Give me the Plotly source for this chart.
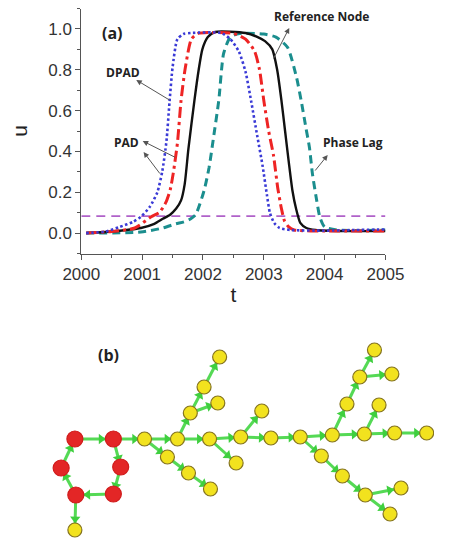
import math
import plotly.graph_objects as go

# ---------------- panel (a) data ----------------
t_dpad = [2000.08, 2000.4, 2000.63, 2000.85, 2000.98, 2001.13, 2001.25, 2001.33, 2001.40, 2001.45,
          2001.50, 2001.58, 2001.68, 2001.8, 2002.3, 2002.45, 2002.59, 2002.70, 2002.79, 2002.89,
          2002.98, 2003.05, 2003.10, 2003.17, 2003.26, 2003.45, 2004.0, 2004.5, 2005.0]
u_dpad = [0.0, 0.008, 0.03, 0.055, 0.08, 0.13, 0.20, 0.30, 0.45, 0.64,
          0.81, 0.95, 0.975, 0.98, 0.98, 0.95, 0.89, 0.79, 0.65, 0.48,
          0.33, 0.19, 0.10, 0.05, 0.025, 0.015, 0.012, 0.015, 0.018]

t_pad = [2000.08, 2000.5, 2000.88, 2001.15, 2001.28, 2001.39, 2001.46, 2001.51, 2001.58, 2001.64,
         2001.71, 2001.81, 2001.92, 2002.5, 2002.7, 2002.85, 2002.93, 2003.0, 2003.08, 2003.16,
         2003.23, 2003.29, 2003.34, 2003.41, 2003.5, 2004.0, 2005.0]
u_pad = [0.0, 0.008, 0.025, 0.08, 0.10, 0.15, 0.21, 0.29, 0.44, 0.65,
         0.81, 0.95, 0.978, 0.978, 0.95, 0.89, 0.80, 0.65, 0.50, 0.38,
         0.22, 0.12, 0.06, 0.03, 0.015, 0.01, 0.01]

t_ref = [2000.08, 2000.5, 2000.98, 2001.2, 2001.34, 2001.46, 2001.56, 2001.64, 2001.70, 2001.76,
         2001.86, 2001.93, 2001.99, 2002.08, 2002.2, 2002.7, 2002.9, 2003.02, 2003.14, 2003.22,
         2003.29, 2003.35, 2003.41, 2003.47, 2003.53, 2003.6, 2003.7, 2003.85, 2004.3, 2005.0]
u_ref = [0.0, 0.008, 0.025, 0.045, 0.07, 0.09, 0.12, 0.16, 0.24, 0.41,
         0.65, 0.80, 0.90, 0.96, 0.985, 0.98, 0.96, 0.94, 0.90, 0.80,
         0.65, 0.50, 0.35, 0.21, 0.12, 0.05, 0.025, 0.015, 0.01, 0.01]

t_lag = [2000.08, 2000.98, 2001.34, 2001.55, 2001.69, 2001.8, 2001.88, 2002.02, 2002.10, 2002.17,
         2002.26, 2002.34, 2002.45, 2002.6, 2003.0, 2003.2, 2003.39, 2003.54, 2003.62, 2003.69,
         2003.75, 2003.80, 2003.87, 2003.92, 2004.0, 2004.2, 2004.6, 2005.0]
u_lag = [0.0, 0.005, 0.025, 0.045, 0.055, 0.07, 0.09, 0.21, 0.32, 0.46,
         0.65, 0.88, 0.96, 0.978, 0.975, 0.96, 0.91, 0.76, 0.64, 0.52,
         0.42, 0.29, 0.16, 0.08, 0.03, 0.015, 0.012, 0.015]

threshold = 0.083
t_range = [2000, 2005]

# ---------------- panel (b) data ----------------
node_names = ["R1", "R2", "R3", "R4", "R5", "R6",
              "Y0", "Y1", "Y2", "Y3", "Y4", "Y5", "Y6", "Y7", "Y8", "Y9", "Y10",
              "Y11", "Y12", "Y13", "Y14", "Y15", "Y16", "Y17", "Y18", "Y19", "Y20",
              "Y21", "Y22", "Y23", "Y24", "Y25", "Y26", "Y27", "Y28", "Y29"]
node_x = [61, 103, 111, 103, 62, 46,
          61, 137, 173, 162, 185, 209, 187, 202, 219, 217, 208,
          242, 265, 275, 307, 237, 342, 330, 353, 378, 417,
          405, 358, 372, 388, 407, 377, 393, 410, 445]
node_y = [439, 439, 467, 494, 495, 468,
          530, 439, 439, 457, 473, 489, 413, 387, 357, 403, 439,
          437, 411, 438, 437, 463, 435, 456, 476, 495, 488,
          514, 404, 377, 350, 374, 434, 405, 433, 433]
edges = [("R1", "R2"), ("R2", "R3"), ("R3", "R4"), ("R4", "R5"), ("R5", "R6"), ("R6", "R1"),
         ("R5", "Y0"), ("R2", "Y1"), ("Y1", "Y2"), ("Y1", "Y3"), ("Y3", "Y4"), ("Y4", "Y5"),
         ("Y2", "Y6"), ("Y6", "Y7"), ("Y7", "Y8"), ("Y6", "Y9"), ("Y2", "Y10"),
         ("Y10", "Y11"), ("Y10", "Y15"), ("Y11", "Y12"), ("Y11", "Y13"), ("Y13", "Y14"),
         ("Y14", "Y16"), ("Y14", "Y17"), ("Y17", "Y18"), ("Y18", "Y19"), ("Y19", "Y20"),
         ("Y19", "Y21"), ("Y16", "Y22"), ("Y22", "Y23"), ("Y23", "Y24"), ("Y23", "Y25"),
         ("Y16", "Y26"), ("Y26", "Y27"), ("Y26", "Y28"), ("Y28", "Y29")]

W, H = 453, 539
fig = go.Figure()

def curve(t, u, color, dash, width):
    fig.add_trace(go.Scatter(x=t, y=u, mode="lines",
                             line=dict(color=color, dash=dash, width=width, shape="spline", smoothing=0.6),
                             hoverinfo="skip", xaxis="x", yaxis="y"))

fig.add_trace(go.Scatter(x=t_range, y=[threshold, threshold], mode="lines",
                         line=dict(color="#b061c9", dash="9px,6px", width=1.6), xaxis="x", yaxis="y"))
curve(t_lag, u_lag, "#1b8e8e", "8px,5px", 3)
curve(t_ref, u_ref, "#111111", "solid", 2.4)
curve(t_pad, u_pad, "#ee2424", "11px,4px,3px,4px", 3)
curve(t_dpad, u_dpad, "#3a3ad6", "2.5px,2.5px", 2.6)

# network edges
idx = {n: i for i, n in enumerate(node_names)}
ex, ey, ax_, ay_, ang = [], [], [], [], []
for a, b in edges:
    x0, y0 = node_x[idx[a]], node_y[idx[a]]
    x1, y1 = node_x[idx[b]], node_y[idx[b]]
    ex += [x0, x1, None]
    ey += [y0, y1, None]
    f = 0.68
    ax_.append(x0 + f * (x1 - x0))
    ay_.append(y0 + f * (y1 - y0))
    ang.append(math.degrees(math.atan2(x1 - x0, -(y1 - y0))))

fig.add_trace(go.Scatter(x=ex, y=ey, mode="lines", line=dict(color="#55d955", width=3),
                         hoverinfo="skip", xaxis="x2", yaxis="y2"))
fig.add_trace(go.Scatter(x=ax_, y=ay_, mode="markers",
                         marker=dict(symbol="triangle-up", size=9, angle=ang, color="#3fcf3f",
                                     opacity=1, line=dict(width=0)),
                         hoverinfo="skip", xaxis="x2", yaxis="y2"))
colors = ["#e32626" if n.startswith("R") else "#f2e21e" for n in node_names]
sizes = [16 if n.startswith("R") else 14 for n in node_names]
borders = ["#d01c1c" if n.startswith("R") else "#857420" for n in node_names]
fig.add_trace(go.Scatter(x=node_x, y=node_y, mode="markers", opacity=1,
                         marker=dict(color=colors, size=sizes, opacity=1,
                                     line=dict(color=borders, width=1.2)),
                         hoverinfo="skip", xaxis="x2", yaxis="y2"))

tickfont = dict(family="Liberation Sans, Arial, sans-serif", size=17, color="#333333")
fig.update_layout(
    width=W, height=H, margin=dict(l=0, r=0, t=0, b=0),
    paper_bgcolor="white", plot_bgcolor="white", showlegend=False,
    xaxis=dict(domain=[68 / W, 400 / W], range=t_range, anchor="y",
               showline=True, linecolor="#555", linewidth=1, showgrid=False, zeroline=False,
               ticks="outside", ticklen=5, tickcolor="#555", dtick=1, tickformat="d",
               minor=dict(dtick=0.5, ticks="outside", ticklen=3, tickcolor="#555"),
               tickfont=tickfont,
               title=dict(text="t", font=dict(family="Liberation Sans, Arial", size=21, color="#222"),
                          standoff=4)),
    yaxis=dict(domain=[1 - 253.5 / H, 1 - 8.5 / H], range=[-0.1, 1.1], anchor="x",
               showline=True, linecolor="#555", linewidth=1, showgrid=False, zeroline=False,
               ticks="outside", ticklen=5, tickcolor="#555", dtick=0.2, tick0=0, tickformat=".1f",
               minor=dict(dtick=0.1, ticks="outside", ticklen=3, tickcolor="#555"),
               tickfont=tickfont,
               title=dict(text="u", font=dict(family="Liberation Sans, Arial", size=21, color="#222"),
                          standoff=14)),
    xaxis2=dict(domain=[0, 1], range=[0, W], anchor="y2", visible=False),
    yaxis2=dict(domain=[0, 209 / H], range=[H, 330], anchor="x2", visible=False),
)

def px2data(px, py):
    return 2000 + (px - 68) / 66.4, (233 - py) / 204.0

lab_family = "Open Sans, Liberation Sans, sans-serif"
labels = [("(a)", 102, 33, 16), ("DPAD", 113, 73, 12), ("PAD", 117, 142, 12),
          ("Reference Node", 330, 17, 12), ("Phase Lag", 365, 142, 12)]
for txt, px, py, sz in labels:
    x, y = px2data(px, py)
    fig.add_annotation(x=x, y=y, xref="x", yref="y", text="<b>%s</b>" % txt, showarrow=False,
                       font=dict(family=lab_family, size=sz, color="#222"))

pointers = [((128, 80), (166, 101)), ((135, 141), (172, 158)), ((136, 152), (155, 175)),
            ((295, 28), (277, 60)), ((337, 155), (322, 172))]
for (hx, hy), (tx, ty) in pointers:
    x, y = px2data(hx, hy)
    axv, ayv = px2data(tx, ty)
    fig.add_annotation(x=x, y=y, ax=axv, ay=ayv, xref="x", yref="y", axref="x", ayref="y",
                       text="", showarrow=True, arrowhead=2, arrowsize=1.1, arrowwidth=1,
                       arrowcolor="#555")

fig.add_annotation(x=98, y=355, xref="x2", yref="y2", text="<b>(b)</b>", showarrow=False,
                   font=dict(family=lab_family, size=16, color="#222"))

fig.write_html("out.html")
